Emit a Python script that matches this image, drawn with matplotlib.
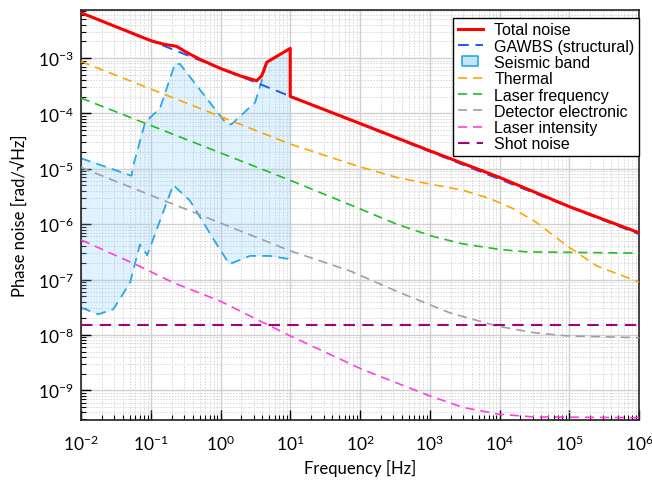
import numpy as np
import matplotlib
matplotlib.use('Agg')
import matplotlib.pyplot as plt
from matplotlib.lines import Line2D

# values (frequency in Hz, phase noise in rad/sqrt(Hz))
f_total = [0.01, 0.1, 0.151, 0.235, 0.327, 0.5, 1, 1.9, 3.3, 3.9, 4.6, 10, 10,
           100, 1e3, 1e4, 1e5, 1e6]
total = [6.6e-3, 2.07e-3, 1.79e-3, 1.63e-3, 1.27e-3, 9.6e-4, 6.5e-4, 4.8e-4,
         3.9e-4, 4.8e-4, 8.4e-4, 1.5e-3, 2.03e-4,
         6.6e-5, 2.12e-5, 7.0e-6, 2.08e-6, 7.0e-7]

f_gawbs = [0.01, 0.1, 1, 10, 100, 1e3, 1e4, 1e5, 1e6]
gawbs = [6.6e-3, 2.07e-3, 6.5e-4, 2.05e-4, 6.5e-5, 2.05e-5, 6.5e-6, 2.05e-6, 6.6e-7]

f_seis_hi = [0.01, 0.053, 0.056, 0.083, 0.136, 0.223, 0.263, 1.23, 1.44, 3.13,
             3.9, 4.6, 10]
seis_hi = [1.55e-5, 7.5e-6, 1.13e-5, 6.9e-5, 1.25e-4, 8.0e-4, 7.8e-4, 6.4e-5,
           6.4e-5, 1.58e-4, 3.9e-4, 8.4e-4, 1.5e-3]
f_seis_lo = [0.01, 0.0177, 0.029, 0.0505, 0.070, 0.089, 0.21, 0.366, 0.79,
             1.34, 2.65, 5.1, 10]
seis_lo = [3.1e-8, 2.36e-8, 2.9e-8, 8.8e-8, 4.3e-7, 2.75e-7, 5.1e-6, 2.64e-6,
           5.4e-7, 1.9e-7, 2.67e-7, 2.67e-7, 2.33e-7]

f_thermal = [0.01, 10, 90, 336, 1000, 3000, 7300, 15800, 34000, 92000, 248000, 1e6]
thermal = [8.7e-4, 2.8e-5, 1.13e-5, 7.0e-6, 5.3e-6, 4.1e-6, 2.9e-6, 1.9e-6,
           1.07e-6, 4.1e-7, 1.76e-7, 9.0e-8]

f_laserf = [0.01, 10, 90, 336, 1120, 3000, 10000, 24500, 1e6]
laserf = [1.9e-4, 6.2e-6, 2.0e-6, 1.0e-6, 6.0e-7, 4.4e-7, 3.5e-7, 3.16e-7, 3.0e-7]

f_det = [0.01, 10, 72, 372, 1950, 9100, 30500, 92000, 1e6]
det = [1.06e-5, 3.3e-7, 1.43e-7, 5.8e-8, 2.5e-8, 1.45e-8, 1.1e-8, 9.6e-9, 8.9e-9]

f_lasint = [0.01, 0.0594, 0.21, 0.98, 4.1, 10, 106, 1000, 3000, 9600, 30500, 1e6]
lasint = [5.2e-7, 1.9e-7, 8.8e-8, 4.1e-8, 1.67e-8, 9.6e-9, 2.4e-9, 7.9e-10,
          4.9e-10, 3.7e-10, 3.3e-10, 3.2e-10]

f_shot = [0.01, 1e6]
shot = [1.5e-8, 1.5e-8]

plt.rcParams['font.family'] = ['Lato', 'DejaVu Sans']
plt.rcParams['mathtext.fontset'] = 'custom'
plt.rcParams['mathtext.rm'] = 'Lato'
plt.rcParams['mathtext.default'] = 'regular'

fig = plt.figure(figsize=(6.52, 4.81), dpi=100)
ax = fig.add_axes([81/652, 1-421/481, (639-81)/652, (421-11)/481])
ax.set_xscale('log')
ax.set_yscale('log')

dash = (0, (5.5, 3.5))
seis_col = '#2aa8e8'

# seismic band
ax.fill(np.concatenate([f_seis_hi, f_seis_lo[::-1]]),
        np.concatenate([seis_hi, seis_lo[::-1]]),
        facecolor='#87cefa', alpha=0.25, edgecolor='#9fd6f2', lw=0.8, zorder=1)
ax.plot(f_seis_hi, seis_hi, color=seis_col, ls=dash, lw=1.3, zorder=2)
ax.plot(f_seis_lo, seis_lo, color=seis_col, ls=dash, lw=1.3, zorder=2)

ax.plot(f_thermal, thermal, color='#ffa500', ls=dash, lw=1.2, zorder=3)
ax.plot(f_laserf, laserf, color='#1ec01e', ls=dash, lw=1.2, zorder=3)
ax.plot(f_det, det, color='#a0a0a0', ls=dash, lw=1.2, zorder=3)
ax.plot(f_lasint, lasint, color='#ff40dd', ls=dash, lw=1.2, zorder=3)
ax.plot(f_shot, shot, color='#a8007a', ls=dash, lw=1.5, zorder=3)
ax.plot(f_gawbs, gawbs, color='#1d55ff', ls=dash, lw=1.4, zorder=4)
ax.plot(f_total, total, color='#ff0000', lw=2.2, zorder=5)

ax.set_xlim(1e-2, 1e6)
ax.set_ylim(2.9e-10, 7.4e-3)
ax.set_xticks([10.0**k for k in range(-2, 7)])
ax.set_yticks([10.0**k for k in range(-9, -2)])
ax.xaxis.set_minor_locator(matplotlib.ticker.LogLocator(base=10, subs=np.arange(2, 10), numticks=20))
ax.yaxis.set_minor_locator(matplotlib.ticker.LogLocator(base=10, subs=np.arange(2, 10), numticks=20))
ax.yaxis.set_minor_formatter(matplotlib.ticker.NullFormatter())
ax.xaxis.set_minor_formatter(matplotlib.ticker.NullFormatter())

ax.grid(which='major', color='#d0d0d0', lw=1.0)
ax.grid(which='minor', color='#d6d6d6', lw=0.7, ls=(0, (1.5, 1.5)))
ax.set_axisbelow(True)
ax.tick_params(which='both', direction='in', top=False, right=False, labelsize=12.5)
ax.tick_params(which='major', length=7, width=1)
ax.tick_params(which='minor', length=3.5, width=0.8)
ax.tick_params(axis='x', pad=10)
ax.tick_params(axis='y', pad=5)
for s in ax.spines.values():
    s.set_linewidth(1.2)
    s.set_color('#222222')

ax.set_xlabel('Frequency [Hz]', fontsize=12, labelpad=4)
ax.set_ylabel('Phase noise [rad/\u221aHz]', fontsize=12, labelpad=7)

handles = [
    Line2D([], [], color='#ff0000', lw=2.2),
    Line2D([], [], color='#1d55ff', ls=dash, lw=1.4),
    Line2D([], [], ls='none', marker=[(-1, -0.55), (1, -0.55), (1, 0.55), (-1, 0.55), (-1, -0.55)],
           markersize=12, markerfacecolor='#c4e7f8', markeredgecolor=seis_col, markeredgewidth=1.2),
    Line2D([], [], color='#ffa500', ls=dash, lw=1.2),
    Line2D([], [], color='#1ec01e', ls=dash, lw=1.2),
    Line2D([], [], color='#a0a0a0', ls=dash, lw=1.2),
    Line2D([], [], color='#ff40dd', ls=dash, lw=1.2),
    Line2D([], [], color='#a8007a', ls=dash, lw=1.5),
]
labels = ['Total noise', 'GAWBS (structural)', 'Seismic band', 'Thermal',
          'Laser frequency', 'Detector electronic', 'Laser intensity', 'Shot noise']
leg = ax.legend(handles, labels, loc='upper right', bbox_to_anchor=(1.0, 1 - 8/410),
                borderaxespad=0, fancybox=False, framealpha=1, edgecolor='black',
                prop={'family': ['Liberation Sans', 'DejaVu Sans'], 'size': 11.5},
                handlelength=1.6, handletextpad=0.7, labelspacing=0.08,
                borderpad=0.28)
leg.get_frame().set_linewidth(1.0)

plt.savefig('out.png', dpi=100)
